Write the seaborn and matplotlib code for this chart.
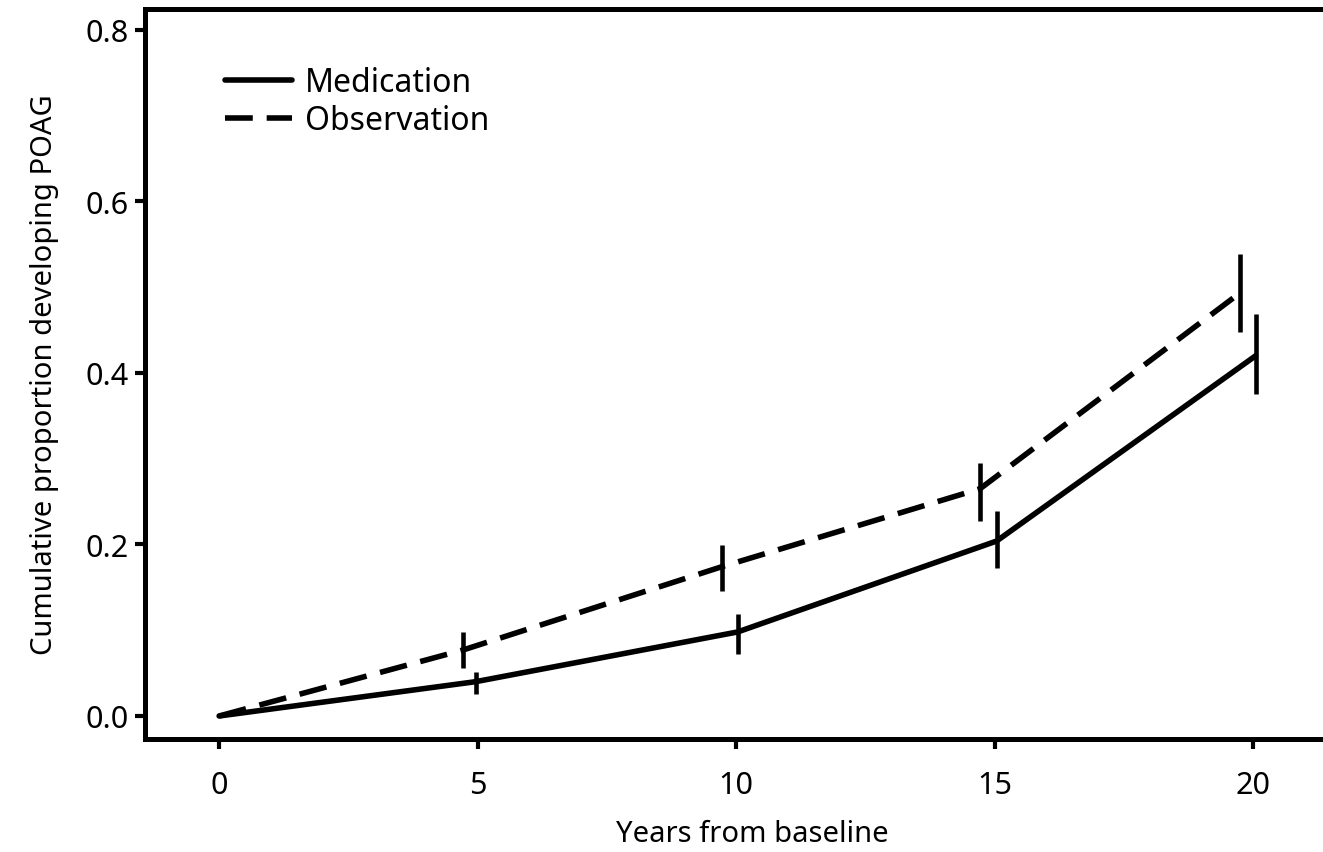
import pandas as pd
import matplotlib
matplotlib.use("Agg")
import matplotlib.pyplot as plt
import seaborn as sns

# values (x slightly dodged per group)
med_years = [0, 4.96, 10.03, 15.04, 20.05]
med_prop = [0.0, 0.040, 0.098, 0.204, 0.420]
med_lo = [None, 0.026, 0.072, 0.173, 0.375]
med_hi = [None, 0.051, 0.119, 0.239, 0.469]

obs_years = [0, 4.72, 9.72, 14.72, 19.74]
obs_prop = [0.0, 0.077, 0.174, 0.265, 0.493]
obs_lo = [None, 0.056, 0.146, 0.227, 0.448]
obs_hi = [None, 0.098, 0.199, 0.295, 0.539]

x_ticks = [0, 5, 10, 15, 20]
y_ticks = [0.0, 0.2, 0.4, 0.6, 0.8]

df = pd.concat([
    pd.DataFrame({"years": med_years, "prop": med_prop, "lo": med_lo, "hi": med_hi, "group": "Medication"}),
    pd.DataFrame({"years": obs_years, "prop": obs_prop, "lo": obs_lo, "hi": obs_hi, "group": "Observation"}),
])

sns.set_style("white")
plt.rcParams["font.family"] = ["Noto Sans", "DejaVu Sans"]
plt.rcParams["text.color"] = "black"
plt.rcParams["axes.labelcolor"] = "black"

fig = plt.figure(figsize=(13.23, 8.53), dpi=100)
# the original is cropped on the right, so the axes run past the figure edge
ax = fig.add_axes([0.1096, 0.1325, 0.95, 0.8558])

styles = {"Medication": "-", "Observation": (0, (5, 2.5))}
for name, sub in df.groupby("group"):
    sns.lineplot(data=sub, x="years", y="prop", ax=ax, color="black",
                 linewidth=4.0, linestyle=styles[name], label=name,
                 estimator=None, sort=False)
    bars = sub.dropna()
    ax.vlines(bars["years"], bars["lo"], bars["hi"], color="black", linewidth=3.3)

ax.set_xlim(-1.434, 22.88)
ax.set_ylim(-0.0268, 0.8245)
ax.set_xticks(x_ticks)
ax.set_xticklabels([str(t) for t in x_ticks])
ax.set_yticks(y_ticks)
ax.set_yticklabels([f"{t:.1f}" for t in y_ticks])
ax.tick_params(axis="both", direction="out", length=7, width=3, labelsize=22,
               color="black", labelcolor="black", left=True, bottom=True)
ax.tick_params(axis="x", pad=15)
ax.tick_params(axis="y", pad=5)

for side in ["left", "bottom", "top"]:
    ax.spines[side].set_linewidth(3.6)
    ax.spines[side].set_color("black")
ax.spines["right"].set_visible(False)

ax.set_xlabel("Years from baseline", fontsize=21, labelpad=14)
ax.xaxis.label.set_x(0.483)
ax.set_ylabel("Cumulative proportion developing POAG", fontsize=21, labelpad=19)

leg = ax.legend(loc="upper left", bbox_to_anchor=(80 / 1257, 0.922), frameon=False,
                fontsize=23, handlelength=2.1, handletextpad=0.4,
                borderaxespad=0, borderpad=0, labelspacing=0.16)
for line in leg.get_lines():
    line.set_linewidth(4.0)

fig.savefig("out.png", dpi=100)
